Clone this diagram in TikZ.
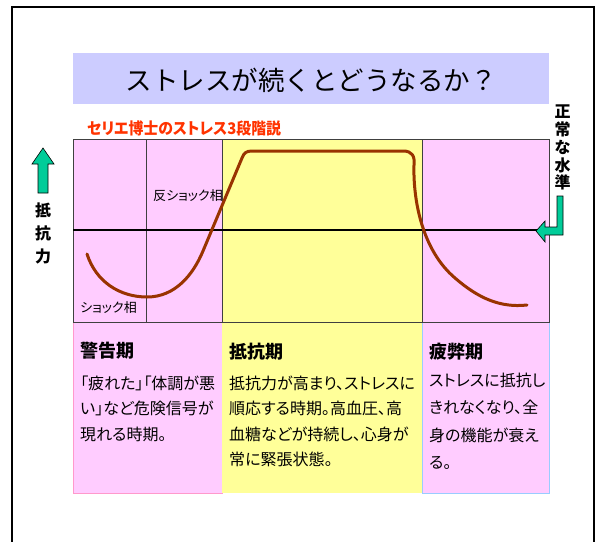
\documentclass[tikz,border=0pt]{standalone}
\usepackage{fontspec}
\setmainfont{Noto Sans CJK JP}
\newfontfamily\jpp[RawFeature=+palt]{Noto Sans CJK JP}
\definecolor{pinkF}{HTML}{FFCCFF}
\definecolor{yellowF}{HTML}{FFFF99}
\definecolor{lav}{HTML}{CCCCFF}
\definecolor{redT}{HTML}{FF3300}
\definecolor{brownC}{HTML}{993300}
\definecolor{greenA}{HTML}{00CC99}
\definecolor{lblue}{HTML}{99CCFF}
\definecolor{pinkB}{HTML}{FF99CC}
\definecolor{gridC}{HTML}{404040}
\tikzset{
  body/.style={anchor=base west, inner sep=0pt, font=\jpp\fontsize{16}{16}\selectfont},
  head/.style={anchor=base west, inner sep=0pt, font=\jpp\bfseries\fontsize{18}{18}\selectfont},
  small/.style={anchor=base west, inner sep=0pt, font=\jpp\fontsize{13}{13}\selectfont},
  vchar/.style={inner sep=0pt, font=\bfseries\fontsize{16}{16}\selectfont},
  arrowshape/.style={fill=greenA, draw=black, line width=0.6pt, line join=miter}
}
\begin{document}
\begin{tikzpicture}[x=1pt,y=-1pt]
\useasboundingbox (0,0) rectangle (601,541);
% outer frame
\draw[line width=2pt] (12,545) -- (12,7) -- (594,7) -- (594,545);
% title
\fill[lav] (73,53) rectangle (549,104);
\node[inner sep=0pt, font=\fontsize{26.5}{26.5}\selectfont] (title) at (311,80) {ストレスが続くとどうなるか？};
% subtitle
\node[anchor=base west, inner sep=0pt, text=redT, font=\jpp\bfseries\fontsize{16}{16}\selectfont] (sub) at (87,134) {\scalebox{0.93}[1]{セリエ博士のストレス3段階説}};
% chart backgrounds
\fill[pinkF] (73,139) rectangle (222,322);
\fill[yellowF] (222,139) rectangle (422,322);
\fill[pinkF] (422,139) rectangle (549,322);
% lower boxes
\filldraw[fill=pinkF, draw=pinkB, line width=1pt] (73,322) rectangle (222,493);
\fill[yellowF] (222,322) rectangle (422,493);
\filldraw[fill=pinkF, draw=lblue, line width=1pt] (422,322) rectangle (549,493);
% chart grid
\draw[gridC, line width=1pt] (73,139) rectangle (549,322);
\draw[gridC, line width=1pt] (146,139) -- (146,322) (222,139) -- (222,322) (422,139) -- (422,322);
\draw[black, line width=1.6pt] (73,230) -- (549,230);
% labels in chart
\node[small] (anti) at (153,200) {反ショック相};
\node[small] (shock) at (80,312) {ショック相};
% curve
\draw[brownC, line width=3pt, line cap=round, line join=round]
  (87,254) .. controls (96,282) and (120,297) .. (147,297)
  .. controls (175,297) and (193,275) .. (203,251)
  -- (242,158) .. controls (244,153) and (246,151) .. (252,151)
  -- (403,151) .. controls (412,151) and (415,156) .. (414,165)
  .. controls (413,200) and (422,250) .. (455,278)
  .. controls (478,298) and (500,308) .. (527,305);
% left arrow
\draw[arrowshape] (43,148) -- (54,164) -- (48,164) -- (48,193) -- (38,193) -- (38,164) -- (32,164) -- cycle;
\node[vchar] (k1) at (43,210) {抵};
\node[vchar] (k2) at (43,233) {抗};
\node[vchar] (k3) at (43,256) {力};
% right label
\node[vchar] (s1) at (562.5,111.5) {正};
\node[vchar] (s2) at (562.5,129.5) {常};
\node[vchar] (s3) at (562.5,147.5) {な};
\node[vchar] (s4) at (562.5,165) {水};
\node[vchar] (s5) at (562.5,182.5) {準};
% bent arrow
\draw[arrowshape] (557,196) -- (563,196) -- (563,235) -- (545,235) -- (545,242) -- (536,231) -- (545,221) -- (545,227) -- (557,227) -- cycle;
% box 1
\node[head] (h1) at (80,357) {警告期};
\foreach \t [count=\i] in {「疲れた」「体調が悪, い」など危険信号が, 現れる時期。}
  \node[body] (a\i) at (80,{389+(\i-1)*25.5}) {\t};
% box 2
\node[head] (h2) at (229,358) {抵抗期};
\foreach \t [count=\i] in {抵抗力が高まり、ストレスに, 順応する時期。高血圧、高, 血糖などが持続し、心身が, 常に緊張状態。}
  \node[body] (b\i) at (229,{389+(\i-1)*25.5}) {\t};
% box 3
\node[head] (h3) at (429,358) {疲弊期};
\foreach \t [count=\i] in {ストレスに抵抗し, きれなくなり、全, 身の機能が衰え, る。}
  \node[body] (c\i) at (429,{386+(\i-1)*27.5}) {\t};
\end{tikzpicture}
\end{document}
